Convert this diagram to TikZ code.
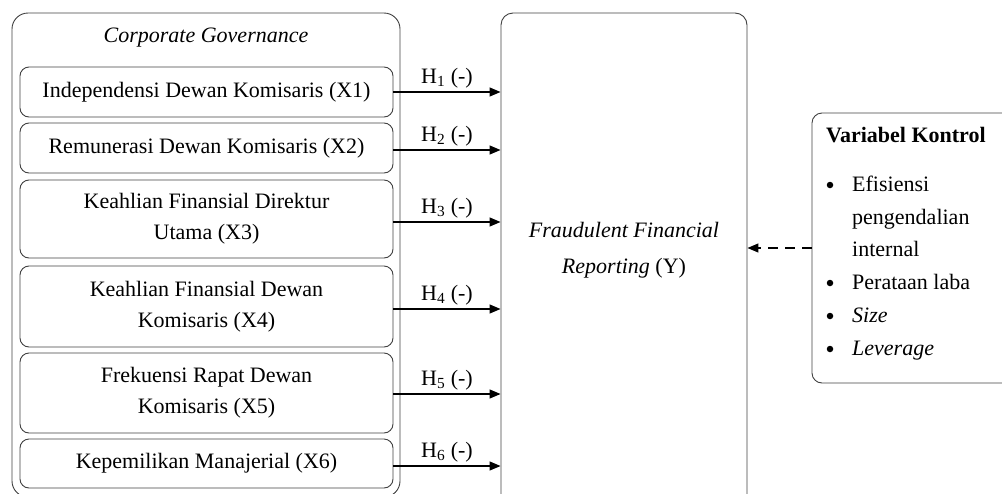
\documentclass[tikz,border=0pt]{standalone}
\usepackage{fontspec}
\setmainfont{Liberation Serif}
\usetikzlibrary{arrows.meta}
\begin{document}
\begin{tikzpicture}[x=1pt,y=-1pt,
  txt/.style={font=\fontsize{22}{31}\selectfont},
  boxline/.style={draw=black!75, line width=0.9pt},
  cgbox/.style={boxline, rounded corners=9pt, minimum width=373pt, align=center, inner sep=0pt, txt},
  conn/.style={line width=1.3pt, -{Triangle[length=11pt,width=9pt]}},
  hlab/.style={txt, anchor=south, inner sep=3pt},
  ctl/.style={txt, anchor=base west, inner sep=0pt},
  bul/.style={circle, fill=black, inner sep=0pt, minimum size=6.5pt},
]
\useasboundingbox (0,0) rectangle (1002,493);
\clip (0,0) rectangle (1002,493);
% outer boxes
\node[boxline, rounded corners=16pt, minimum width=388pt, minimum height=484pt] (cg) at (206,255) {};
\node[txt, font=\fontsize{22}{31}\selectfont\itshape] (cgt) at (206,38) {Corporate Governance};
\node[boxline, rounded corners=12pt, minimum width=246pt, minimum height=500pt] (fr) at (624,263) {};
\node[txt, align=center, font=\fontsize{22}{36}\selectfont] (frt) at (624,250) {\textit{Fraudulent Financial}\\\textit{Reporting} (Y)};
\node[boxline, rounded corners=10pt, minimum width=210pt, minimum height=270pt] (ctrl) at (917,248) {};
% inner boxes
\node[cgbox, minimum height=50pt] (x1) at (206.5,92) {Independensi Dewan Komisaris (X1)};
\node[cgbox, minimum height=50pt] (x2) at (206.5,148) {Remunerasi Dewan Komisaris (X2)};
\node[cgbox, minimum height=78pt] (x3) at (206.5,219) {Keahlian Finansial Direktur\\Utama (X3)};
\node[cgbox, minimum height=81pt] (x4) at (206.5,306.5) {Keahlian Finansial Dewan\\Komisaris (X4)};
\node[cgbox, minimum height=80pt] (x5) at (206.5,393) {Frekuensi Rapat Dewan\\Komisaris (X5)};
\node[cgbox, minimum height=49pt] (x6) at (206.5,463.5) {Kepemilikan Manajerial (X6)};
% arrow start points
\coordinate (a1) at (x1.east);
\coordinate (a2) at ([yshift=-2pt]x2.east);
\coordinate (a3) at ([yshift=-3pt]x3.east);
\coordinate (a4) at ([yshift=-2.5pt]x4.east);
\coordinate (a5) at ([yshift=-1pt]x5.east);
\coordinate (a6) at ([yshift=-2.5pt]x6.east);
% arrows
\draw[conn] (a1) -- node[hlab] (h1) {H\textsubscript{1} (-)} (fr.west |- a1);
\draw[conn] (a2) -- node[hlab] (h2) {H\textsubscript{2} (-)} (fr.west |- a2);
\draw[conn] (a3) -- node[hlab] (h3) {H\textsubscript{3} (-)} (fr.west |- a3);
\draw[conn] (a4) -- node[hlab] (h4) {H\textsubscript{4} (-)} (fr.west |- a4);
\draw[conn] (a5) -- node[hlab] (h5) {H\textsubscript{5} (-)} (fr.west |- a5);
\draw[conn] (a6) -- node[hlab] (h6) {H\textsubscript{6} (-)} (fr.west |- a6);
\draw[line width=1.3pt, dash pattern=on 10pt off 7pt, -{Triangle[length=11pt,width=9pt]}] (ctrl.west) -- (fr.east |- ctrl.west);
% control text
\node[ctl, font=\fontsize{22}{31}\selectfont\bfseries] (vk) at (826,142) {Variabel Kontrol};
\node[bul] (b1) at (830,185) {};
\node[ctl] (t1) at (852,191) {Efisiensi};
\node[ctl] (t1b) at (852,224) {pengendalian};
\node[ctl] (t1c) at (852,256) {internal};
\node[bul] (b2) at (830,283) {};
\node[ctl] (t2) at (852,289) {Perataan laba};
\node[bul] (b3) at (830,316) {};
\node[ctl, font=\fontsize{22}{31}\selectfont\itshape] (t3) at (852,322) {Size};
\node[bul] (b4) at (830,349) {};
\node[ctl, font=\fontsize{22}{31}\selectfont\itshape] (t4) at (852,355) {Leverage};
\end{tikzpicture}
\end{document}
